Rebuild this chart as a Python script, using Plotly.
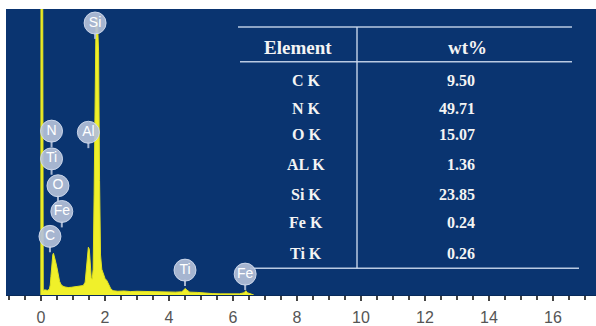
import plotly.graph_objects as go

# EDS spectrum (energy in keV, counts in arbitrary units, full scale = 100)
energy = [-0.005, 0.0, 0.05, 0.07, 0.12, 0.20, 0.26, 0.29, 0.31, 0.34, 0.37, 0.39, 0.42,
          0.46, 0.50, 0.54, 0.58, 0.62, 0.68, 0.75, 0.85, 0.95, 1.05, 1.15, 1.25,
          1.32, 1.38, 1.42, 1.45, 1.48, 1.51, 1.54, 1.57, 1.60, 1.63, 1.66, 1.69,
          1.72, 1.76, 1.80, 1.83, 1.86, 1.90, 1.95, 2.00, 2.06, 2.12, 2.18, 2.25,
          2.40, 2.60, 2.80, 3.00, 3.30, 3.60, 3.90, 4.20, 4.40, 4.47, 4.51, 4.56,
          4.65, 4.90, 5.20, 5.35, 5.60, 5.90, 6.20, 6.35, 6.40, 6.45, 6.55, 6.65]
counts = [0, 130, 130, 1.6, 1.8, 1.6, 2.0, 3.5, 6.5, 11.0, 14.2, 14.6, 13.5,
          11.5, 9.5, 7.0, 4.8, 3.8, 3.1, 2.8, 2.6, 2.7, 2.8, 2.9, 3.0,
          3.3, 4.5, 9.0, 14.0, 16.7, 16.0, 10.0, 6.0, 5.5, 9.0, 35.0, 80.0,
          97.0, 97.0, 85.0, 40.0, 14.0, 9.0, 7.0, 5.8, 5.0, 3.6, 2.2, 1.5,
          1.3, 1.4, 1.2, 1.3, 1.2, 1.1, 1.2, 1.0, 1.1, 1.8, 2.3, 1.7,
          1.0, 0.9, 0.8, 0.5, 0.4, 0.4, 0.4, 0.8, 1.5, 0.8, 0.3, 0]

# Peak identification badges
peak_names = ["Si", "N", "Al", "Ti", "O", "Fe", "C", "Ti", "Fe"]
peak_x = [1.69, 0.33, 1.48, 0.33, 0.53, 0.65, 0.28, 4.50, 6.38]
peak_y = [95.1, 57.3, 56.9, 47.6, 38.2, 29.2, 20.5, 8.7, 7.3]

# Quantification table
elements = ["C K", "N K", "O K", "AL K", "Si K", "Fe K", "Ti K"]
wt_pct = ["9.50", "49.71", "15.07", "1.36", "23.85", "0.24", "0.26"]

x_ticks = [0, 2, 4, 6, 8, 10, 12, 14, 16]

NAVY = "#0a3470"
YELLOW = "#f0f02a"
BADGE = "rgba(180,192,216,0.92)"
LINE = "rgba(205,218,238,0.9)"

# plot area in pixels: x 6..596, y 9..297
L, T, W, H = 6, 9, 590, 288


def px(x):
    return (x - L) / W


def py(y):
    return (T + H - y) / H


fig = go.Figure()

fig.add_trace(go.Scatter(
    x=energy, y=counts, mode="lines", fill="tozeroy",
    line=dict(color="#e2e21e", width=1), fillcolor=YELLOW,
    hoverinfo="skip", showlegend=False,
))

# short stems under each badge
badge_r = 11.0 / H * 100
stem_len = 5.0 / H * 100
sx, sy = [], []
for x, y in zip(peak_x, peak_y):
    sx += [x, x, None]
    sy += [y - badge_r + 0.5, y - badge_r - stem_len, None]
fig.add_trace(go.Scatter(
    x=sx, y=sy, mode="lines", line=dict(color=BADGE, width=2),
    hoverinfo="skip", showlegend=False,
))

fig.add_trace(go.Scatter(
    x=peak_x, y=peak_y, mode="markers+text", text=peak_names,
    textposition="middle center",
    textfont=dict(family="Liberation Sans", size=14, color="white"),
    marker=dict(size=22, color=BADGE, line=dict(color="rgba(210,220,238,0.9)", width=1)),
    hoverinfo="skip", showlegend=False,
))

# table rules
shapes = [
    dict(type="line", xref="paper", yref="paper", x0=px(238), x1=px(572), y0=py(27), y1=py(27)),
    dict(type="line", xref="paper", yref="paper", x0=px(240), x1=px(572), y0=py(62), y1=py(62)),
    dict(type="line", xref="paper", yref="paper", x0=px(357), x1=px(357), y0=py(27), y1=py(270)),
    dict(type="line", xref="paper", yref="paper", x0=px(250), x1=px(579), y0=py(270), y1=py(270)),
]
for s in shapes:
    s["line"] = dict(color=LINE, width=1.5)
    s["layer"] = "below"

serif = "Liberation Serif"
annotations = [
    dict(x=px(298), y=py(48), text="<b>Element</b>", xanchor="center", yanchor="middle",
         font=dict(family=serif, size=19, color="#f4f4f4")),
    dict(x=px(467), y=py(48), text="<b>wt%</b>", xanchor="center", yanchor="middle",
         font=dict(family=serif, size=19, color="#f4f4f4")),
]
row_y = [81, 109, 135, 166, 196, 224, 255]
for name, val, ry in zip(elements, wt_pct, row_y):
    annotations.append(dict(x=px(306), y=py(ry), text=f"<b>{name}</b>", xanchor="center",
                            yanchor="middle", font=dict(family=serif, size=16, color="#f4f4f4")))
    annotations.append(dict(x=px(477), y=py(ry), text=f"<b>{val}</b>", xanchor="right",
                            yanchor="middle", font=dict(family=serif, size=16, color="#f4f4f4")))
for a in annotations:
    a.update(xref="paper", yref="paper", showarrow=False)

fig.update_layout(
    width=596, height=326,
    margin=dict(l=L, r=596 - L - W, t=T, b=326 - T - H),
    paper_bgcolor="white", plot_bgcolor=NAVY,
    shapes=shapes, annotations=annotations,
    xaxis=dict(
        range=[(L - 41) / 32, (L + W - 41) / 32],
        tickvals=x_ticks, ticks="outside", ticklen=5, tickwidth=1.5, tickcolor="#444",
        minor=dict(dtick=0.5, ticks="outside", ticklen=4, tickwidth=1.5, tickcolor="#444"),
        showgrid=False, zeroline=False, showline=True, linecolor="#082a5a", linewidth=1,
        tickfont=dict(family="Liberation Sans", size=16, color="#555"),
        ticklabelstandoff=3,
        fixedrange=True,
    ),
    yaxis=dict(range=[0, 100], visible=False, fixedrange=True),
)

fig.write_html("out.html")
